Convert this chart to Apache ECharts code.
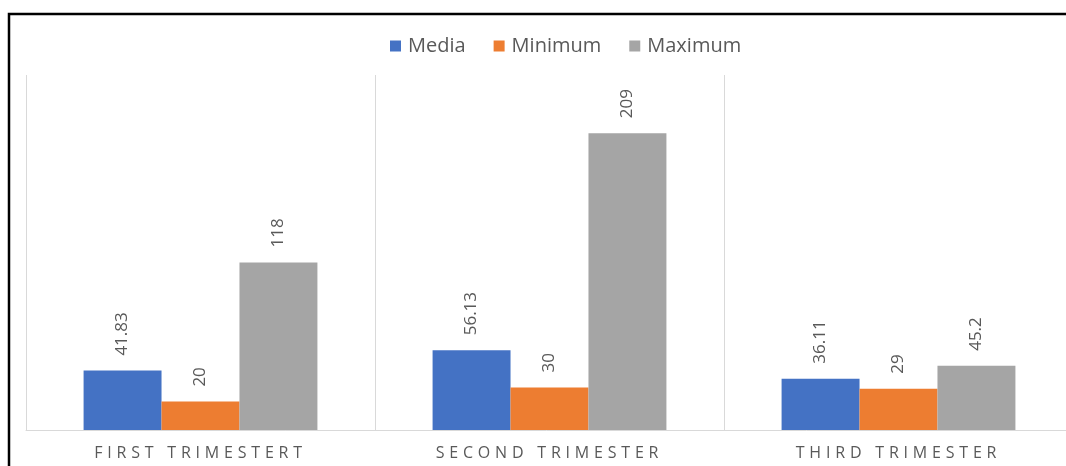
<!DOCTYPE html>
<html>
<head>
<meta charset="utf-8">
<script src="https://cdn.jsdelivr.net/npm/echarts@6/dist/echarts.min.js"></script>
<style>html,body{margin:0;padding:0;background:#fff}#c{width:1066px;height:466px}</style>
</head>
<body>
<div id="c"></div>
<script>
const categories = ['FIRST TRIMESTERT', 'SECOND TRIMESTER', 'THIRD TRIMESTER'];
const media = [41.83, 56.13, 36.11];
const minimum = [20, 30, 29];
const maximum = [118, 209, 45.2];
const seriesNames = ['Media', 'Minimum', 'Maximum'];
const colors = ['#4472C4', '#ED7D31', '#A5A5A5'];

// letter-spaced category labels (drawn with the 16px axis-label font only)
(function () {
  const proto = CanvasRenderingContext2D.prototype;
  const orig = proto.fillText;
  proto.fillText = function (t, x, y, m) {
    if ('letterSpacing' in this) {
      this.letterSpacing = (this.font.indexOf('16px') >= 0) ? '4.8px' : '0px';
    }
    return m === undefined ? orig.call(this, t, x, y) : orig.call(this, t, x, y, m);
  };
})();

const chart = echarts.init(document.getElementById('c'));
const labelCfg = {
  show: true, position: 'top', rotate: 90, align: 'left', verticalAlign: 'middle',
  distance: 15, color: '#595959', fontSize: 17, fontFamily: 'Open Sans'
};
chart.setOption({
  animation: false,
  backgroundColor: '#fff',
  color: colors,
  graphic: [{
    type: 'rect', z: 100, silent: true,
    shape: { x: 9, y: 14, width: 1200, height: 600 },
    style: { fill: 'none', stroke: '#000', lineWidth: 2.5 }
  }],
  legend: {
    top: 31, left: 385, itemWidth: 11, itemHeight: 11, itemGap: 28,
    icon: 'rect',
    textStyle: { color: '#595959', fontSize: 20, fontFamily: 'Open Sans', padding: [0, 0, 0, 2] }
  },
  grid: { left: 26, top: 75, width: 1047, height: 355, outerBoundsMode: 'none', containLabel: false },
  xAxis: {
    type: 'category', data: categories,
    axisLine: { lineStyle: { color: '#d9d9d9', width: 1 } },
    axisTick: { show: false },
    splitLine: { show: true, lineStyle: { color: '#d9d9d9', width: 1 } },
    axisLabel: { margin: 15, color: '#595959', fontSize: 16, fontFamily: 'Open Sans' }
  },
  yAxis: { type: 'value', min: 0, max: 250, show: false, splitLine: { show: false } },
  series: [
    { name: seriesNames[0], type: 'bar', data: media, barGap: '0%', barCategoryGap: '33%', label: labelCfg },
    { name: seriesNames[1], type: 'bar', data: minimum, barGap: '0%', barCategoryGap: '33%', label: labelCfg },
    { name: seriesNames[2], type: 'bar', data: maximum, barGap: '0%', barCategoryGap: '33%', label: labelCfg }
  ]
});
</script>
</body>
</html>
